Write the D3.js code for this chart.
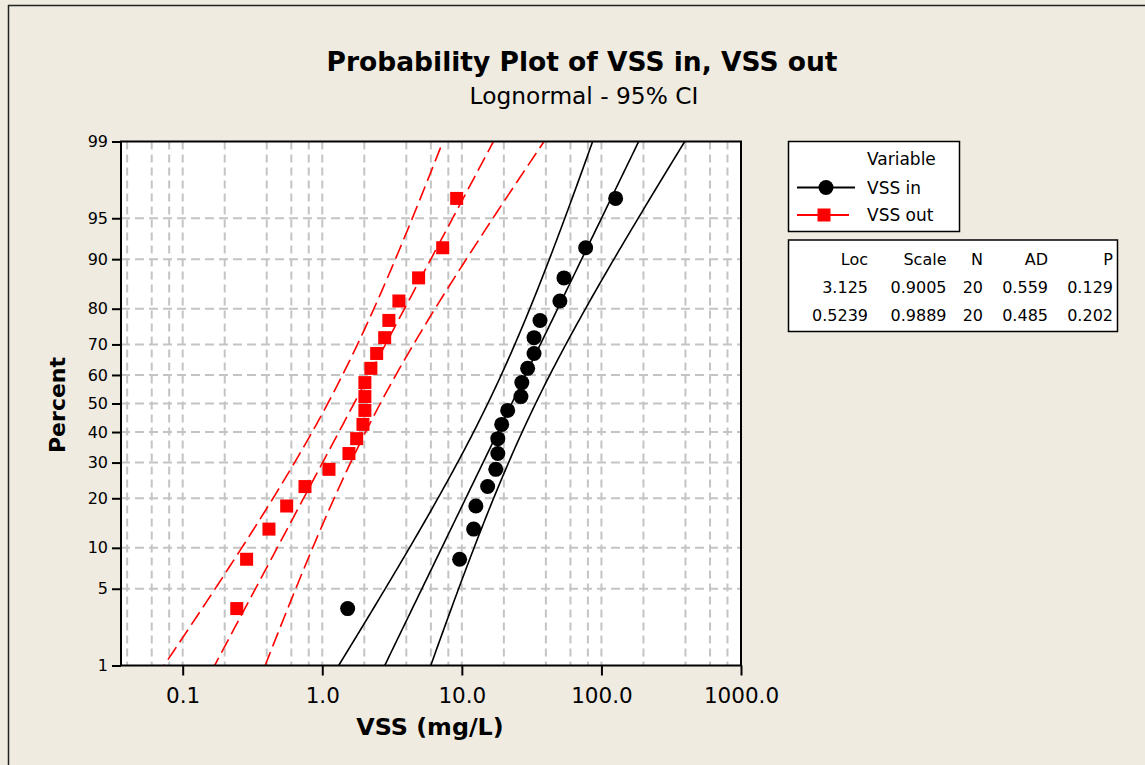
<!DOCTYPE html>
<html><head><meta charset="utf-8">
<script src="https://cdn.jsdelivr.net/npm/d3@7/dist/d3.min.js"></script>
<style>
html,body{margin:0;padding:0;background:#efebe1;}
svg{display:block;font-family:"DejaVu Sans",sans-serif;}
</style></head>
<body><svg id="c" width="1145" height="765"></svg>
<script>
// ---- data ----
const seriesNames = ["VSS in", "VSS out"];
const vssIn  = [1.52, 9.64, 12.15, 12.6, 15.3, 17.5, 18.1, 18.1, 19.3, 21.3, 26.5, 26.9, 29.6, 32.9, 32.9, 36.3, 50.4, 53.9, 77.1, 126.4];
const vssOut = [0.244, 0.287, 0.415, 0.556, 0.752, 1.117, 1.553, 1.764, 1.957, 2.02, 2.02, 2.02, 2.23, 2.453, 2.80, 3.0, 3.54, 4.90, 7.29, 9.18];
const locs   = [3.125, 0.5239];
const scales = [0.9005, 0.9889];
const ns     = [20, 20];
const statHeader = ["Loc", "Scale", "N", "AD", "P"];
const statRow1 = ["3.125", "0.9005", "20", "0.559", "0.129"];
const statRow2 = ["0.5239", "0.9889", "20", "0.485", "0.202"];
const pctTicks = [1, 5, 10, 20, 30, 40, 50, 60, 70, 80, 90, 95, 99];
const xTickVals = [0.1, 1, 10, 100, 1000];
const xTickLabels = ["0.1", "1.0", "10.0", "100.0", "1000.0"];
const xGridVals = [0.04,0.06,0.08,0.1,0.2,0.4,0.6,0.8,1,2,4,6,8,10,20,40,60,80,100,200,400,600,800];

// inverse normal CDF (Acklam)
function qnorm(p){
  const a=[-3.969683028665376e+01,2.209460984245205e+02,-2.759285104469687e+02,1.383577518672690e+02,-3.066479806614716e+01,2.506628277459239e+00];
  const b=[-5.447609879822406e+01,1.615858368580409e+02,-1.556989798598866e+02,6.680131188771972e+01,-1.328068155288572e+01];
  const c=[-7.784894002430293e-03,-3.223964580411365e-01,-2.400758277161838e+00,-2.549671324764893e+00,4.374664141464968e+00,2.938163982698783e+00];
  const d=[7.784695709041462e-03,3.224671290700398e-01,2.445134137142996e+00,3.754408661907416e+00];
  const pl=0.02425, ph=1-pl; let q,r;
  if(p<pl){q=Math.sqrt(-2*Math.log(p));return (((((c[0]*q+c[1])*q+c[2])*q+c[3])*q+c[4])*q+c[5])/((((d[0]*q+d[1])*q+d[2])*q+d[3])*q+1);}
  if(p<=ph){q=p-0.5;r=q*q;return (((((a[0]*r+a[1])*r+a[2])*r+a[3])*r+a[4])*r+a[5])*q/(((((b[0]*r+b[1])*r+b[2])*r+b[3])*r+b[4])*r+1);}
  q=Math.sqrt(-2*Math.log(1-p));return -(((((c[0]*q+c[1])*q+c[2])*q+c[3])*q+c[4])*q+c[5])/((((d[0]*q+d[1])*q+d[2])*q+d[3])*q+1);
}

const svg = d3.select("#c");
const L=121, R=741, T=141.5, B=665.5;
const x = d3.scaleLog().domain([0.03614, 1000]).range([L, R]);
const yz = d3.scaleLinear().domain([qnorm(0.01), qnorm(0.99)]).range([B, T]);
const y = p => yz(qnorm(p/100));

// frame
svg.append("line").attr("x1",8).attr("x2",1145).attr("y1",5.5).attr("y2",5.5).attr("stroke","#222").attr("stroke-width",1.5);
svg.append("line").attr("x1",8.5).attr("x2",8.5).attr("y1",5).attr("y2",765).attr("stroke","#222").attr("stroke-width",1.5);

// titles
svg.append("text").attr("x",582).attr("y",71).attr("text-anchor","middle").attr("font-weight","bold").style("font-size","26.5px").text("Probability Plot of VSS in, VSS out");
svg.append("text").attr("x",584).attr("y",104).attr("text-anchor","middle").style("font-size","23.3px").text("Lognormal - 95% CI");

// plot bg
svg.append("rect").attr("x",L).attr("y",T).attr("width",R-L).attr("height",B-T).attr("fill","#fff");

svg.append("clipPath").attr("id","clip").append("rect").attr("x",L).attr("y",T).attr("width",R-L).attr("height",B-T);
const g = svg.append("g").attr("clip-path","url(#clip)");

// grid
g.selectAll(".vg").data(xGridVals).join("line").attr("x1",d=>x(d)).attr("x2",d=>x(d)).attr("y1",T).attr("y2",B)
  .attr("stroke","#c4c4c4").attr("stroke-width",2).attr("stroke-dasharray","8,5");
g.selectAll(".hg").data(pctTicks.slice(1,-1)).join("line").attr("x1",L).attr("x2",R).attr("y1",d=>y(d)).attr("y2",d=>y(d))
  .attr("stroke","#c4c4c4").attr("stroke-width",2).attr("stroke-dasharray","9,5");

// fitted lines and CI
const colors = ["#000000", "#ff0000"];
const zs = d3.range(-3.2, 3.2001, 0.05);
[0,1].forEach(k=>{
  const mu=locs[k], s=scales[k], n=ns[k];
  const line = d3.line().x(d=>x(d[0])).y(d=>yz(d[1]));
  const mid = zs.map(z=>[Math.exp(mu+s*z), z]);
  const se = z => s*Math.sqrt(1/n + z*z/(2*n));
  const lo = zs.map(z=>[Math.exp(mu+s*z-1.959964*se(z)), z]);
  const hi = zs.map(z=>[Math.exp(mu+s*z+1.959964*se(z)), z]);
  [lo,mid,hi].forEach(pts=>{
    g.append("path").attr("d",line(pts)).attr("fill","none").attr("stroke",colors[k]).attr("stroke-width",1.6)
     .attr("stroke-dasharray", k===1 ? "15,6" : null);
  });
});

// points
const n0 = vssIn.length;
const rank = i => (i+1-0.3)/(n0+0.4)*100;
g.selectAll(".pin").data(vssIn).join("circle").attr("cx",d=>x(d)).attr("cy",(d,i)=>y(rank(i))).attr("r",7.5).attr("fill","#000");
g.selectAll(".pout").data(vssOut).join("rect").attr("x",d=>x(d)-6.5).attr("y",(d,i)=>y(rank(i))-6.5).attr("width",13).attr("height",13).attr("fill","#ff0000");

// axes
const ax = svg.append("g");
ax.append("rect").attr("x",L).attr("y",T).attr("width",R-L).attr("height",B-T).attr("fill","none").attr("stroke","#000").attr("stroke-width",2);
const yAxis = d3.axisLeft(yz).tickValues(pctTicks.map(p=>qnorm(p/100))).tickFormat((d,i)=>pctTicks[i]).tickSize(9).tickPadding(4);
const ya = ax.append("g").attr("transform",`translate(${L},0)`).call(yAxis);
ya.attr("font-size",null).attr("font-family",null);
ya.select(".domain").remove();
ya.selectAll(".tick line").attr("stroke","#000").attr("stroke-width",2);
ya.selectAll(".tick text").style("font-size","16px").attr("fill","#000");
const xAxis = d3.axisBottom(x).tickValues(xTickVals).tickFormat((d,i)=>xTickLabels[i]).tickSize(10).tickPadding(12);
const xa = ax.append("g").attr("transform",`translate(0,${B})`).call(xAxis);
xa.attr("font-size",null).attr("font-family",null);
xa.select(".domain").remove();
xa.selectAll(".tick line").attr("stroke","#000").attr("stroke-width",2);
xa.selectAll(".tick text").style("font-size","21.5px").attr("fill","#000");

svg.append("text").attr("x",430).attr("y",735).attr("text-anchor","middle").attr("font-weight","bold").style("font-size","23.8px").text("VSS (mg/L)");
svg.append("text").attr("transform","translate(65,405) rotate(-90)").attr("text-anchor","middle").attr("font-weight","bold").style("font-size","22px").text("Percent");

// legend
const lg = svg.append("g");
lg.append("rect").attr("x",788.5).attr("y",141.5).attr("width",171).attr("height",90).attr("fill","#fff").attr("stroke","#000").attr("stroke-width",1.5);
lg.append("text").attr("x",867).attr("y",165).style("font-size","17px").text("Variable");
[0,1].forEach(k=>{
  const ly = [187.5, 215][k];
  lg.append("line").attr("x1",797).attr("x2",k?849:855).attr("y1",ly).attr("y2",ly).attr("stroke",colors[k]).attr("stroke-width",2);
  if(k===0) lg.append("circle").attr("cx",826).attr("cy",ly).attr("r",7.5).attr("fill","#000");
  else lg.append("rect").attr("x",824-6.5).attr("y",ly-6.5).attr("width",13).attr("height",13).attr("fill","#ff0000");
  lg.append("text").attr("x",867).attr("y",ly+6).style("font-size","17px").text(seriesNames[k]);
});

// stats table
const st = svg.append("g");
st.append("rect").attr("x",788.5).attr("y",240).attr("width",329).attr("height",91.5).attr("fill","#fff").attr("stroke","#000").attr("stroke-width",1.5);
const colR = [868, 946.5, 983, 1048, 1113];
[statHeader, statRow1, statRow2].forEach((row,ri)=>{
  row.forEach((t,ci)=>{
    st.append("text").attr("x",colR[ci]).attr("y",[265,292.5,321][ri]).attr("text-anchor","end").style("font-size","16px").text(t);
  });
});
</script></body></html>
